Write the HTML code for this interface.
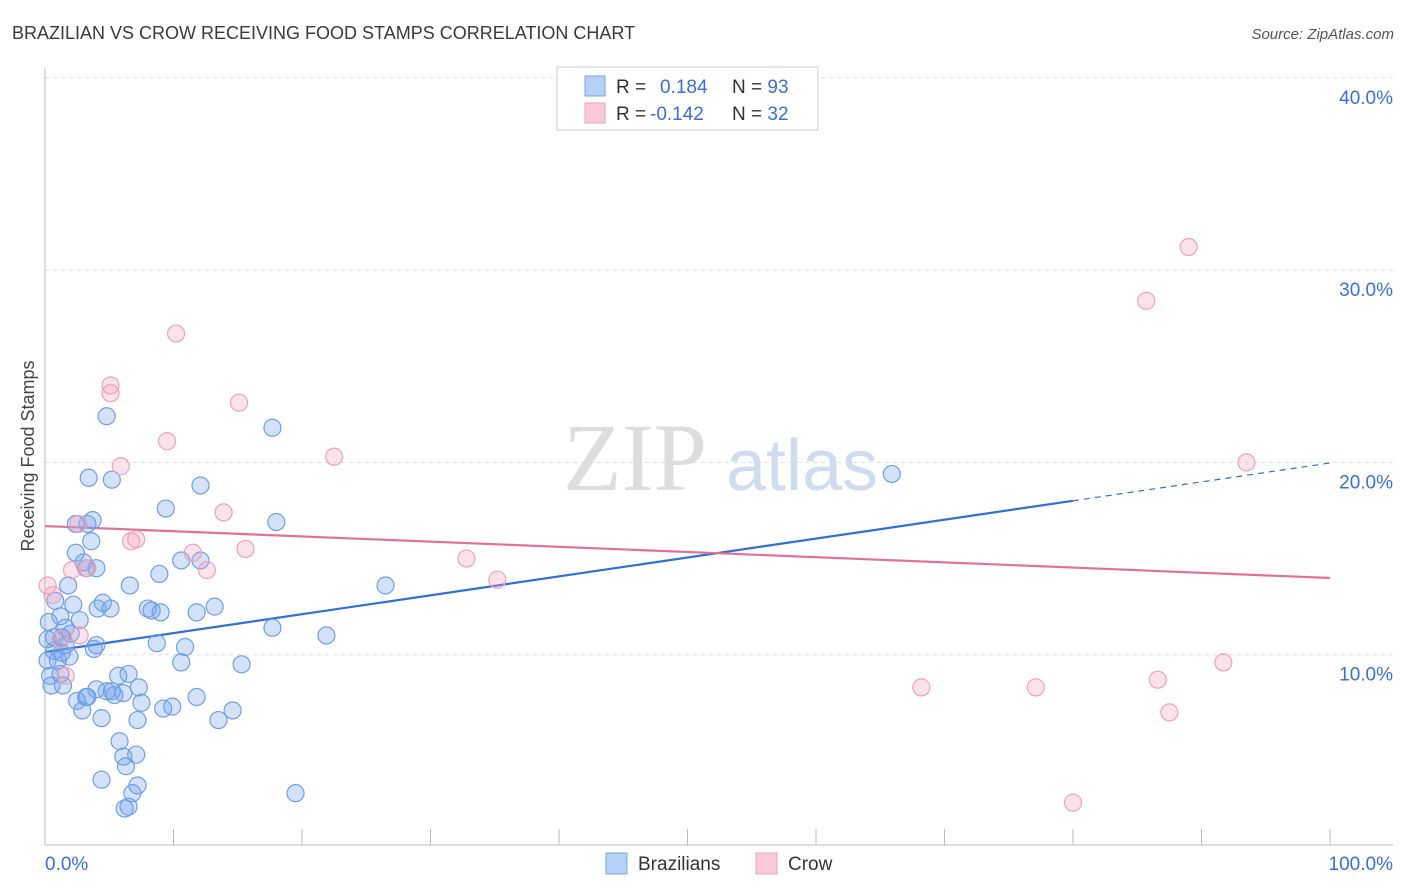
<!DOCTYPE html>
<html><head><meta charset="utf-8"><style>
body{margin:0;background:#fff;font-family:"Liberation Sans",sans-serif;}
svg{display:block}
</style></head><body>
<svg id="chart" width="1406" height="892">
<text x="12" y="39" font-size="18" fill="#3a3a3a">BRAZILIAN VS CROW RECEIVING FOOD STAMPS CORRELATION CHART</text>
<text x="1394" y="39" font-size="15" fill="#555" font-style="italic" text-anchor="end">Source: ZipAtlas.com</text>
<text x="34" y="456" font-size="18" fill="#444" transform="rotate(-90 34 456)" text-anchor="middle">Receiving Food Stamps</text>
<g><text x="635" y="490" font-size="96" fill="#ddd" font-family="Liberation Serif,serif" text-anchor="middle">ZIP</text><text x="802" y="490" font-size="72" fill="#cfdcef" text-anchor="middle">atlas</text></g>
<g id="grid"></g><g id="axes"></g><g id="trend"></g><g id="pts"></g>
<g>
<rect x="557" y="67" width="261" height="63" fill="#fff" stroke="#ccc"/>
<rect x="585" y="76" width="20" height="20" fill="#b7d0f5" stroke="#7aa6e8"/>
<rect x="585" y="103" width="20" height="20" fill="#f9c9d8" stroke="#eda3bb"/>
<text x="616" y="93" font-size="19" fill="#333">R = <tspan fill="#3a6fd8" x="660">0.184</tspan><tspan fill="#333" x="732">N = </tspan><tspan fill="#3a6fd8">93</tspan></text>
<text x="616" y="120" font-size="19" fill="#333">R = <tspan fill="#3a6fd8" x="650">-0.142</tspan><tspan fill="#333" x="732">N = </tspan><tspan fill="#3a6fd8">32</tspan></text>
</g>
<g>
<rect x="606" y="853" width="21" height="21" fill="#b7d0f5" stroke="#7aa6e8"/>
<text x="638" y="870" font-size="19" fill="#333">Brazilians</text>
<rect x="756" y="853" width="21" height="21" fill="#f9c9d8" stroke="#eda3bb"/>
<text x="788" y="870" font-size="19" fill="#333">Crow</text>
</g>
</svg>
<script>
const xTicks=[0,10,20,30,40,50,60,70,80,90,100];
const yTicks=[10,20,30,40];
const yTickLabels=["10.0%","20.0%","30.0%","40.0%"];
const blueX=[4.8,17.7,3.4,5.2,12.1,9.4,18.0,3.7,2.4,3.3,3.6,2.4,3.0,10.6,12.1,4.0,3.2,8.9,1.8,6.6,26.5,0.8,2.2,4.5,4.1,5.1,8.0,8.3,9.0,11.8,13.2,1.2,2.7,0.3,1.6,2.0,1.3,17.7,21.9,8.7,10.9,4.0,3.8,0.7,1.3,1.9,1.0,0.2,10.6,15.3,5.7,6.5,1.2,0.4,0.5,1.4,4.0,4.8,5.2,6.1,7.3,5.4,2.5,3.2,3.3,11.8,7.5,9.2,9.9,14.6,2.9,4.4,7.2,13.5,5.8,6.1,7.1,6.3,4.4,7.2,6.8,19.5,6.2,6.5,65.9,0.7,1.6,0.2];
const blueY=[22.4,21.8,19.2,19.1,18.8,17.6,16.9,17.0,16.8,16.8,15.9,15.3,14.8,14.9,14.9,14.5,14.5,14.2,13.6,13.6,13.6,12.8,12.6,12.7,12.4,12.4,12.4,12.3,12.2,12.2,12.5,12.0,11.8,11.7,11.4,11.1,10.9,11.4,11.0,10.6,10.4,10.5,10.3,10.9,10.1,9.9,9.7,9.7,9.6,9.5,8.9,9.0,9.0,8.9,8.4,8.4,8.2,8.1,8.1,8.0,8.3,7.9,7.6,7.8,7.8,7.8,7.5,7.2,7.3,7.1,7.1,6.7,6.6,6.6,5.5,4.7,4.8,4.2,3.5,3.2,2.8,2.8,2.0,2.1,19.4,10.2,10.5,10.8];
const pinkX=[10.2,5.1,5.1,15.1,9.5,5.9,22.5,13.9,2.6,6.7,7.1,15.6,11.5,12.6,2.1,3.3,32.8,35.2,0.2,0.6,2.7,1.6,68.2,77.1,86.6,87.5,91.7,80.0,89.0,85.7,93.5,1.2];
const pinkY=[26.7,24.0,23.6,23.1,21.1,19.8,20.3,17.4,16.8,15.9,16.0,15.5,15.3,14.4,14.4,14.5,15.0,13.9,13.6,13.1,11.0,8.9,8.3,8.3,8.7,7.0,9.6,2.3,31.2,28.4,20.0,10.8];
const blueTrend=[10.14,19.97];
const pinkTrend=[16.69,13.99];
const NS="http://www.w3.org/2000/svg";
const sx=v=>45+v*12.85, sy=v=>847-v*19.23;
function mk(tag,attrs,parent){const e=document.createElementNS(NS,tag);for(const k in attrs)e.setAttribute(k,attrs[k]);parent.appendChild(e);return e;}
const grid=document.getElementById('grid'),axes=document.getElementById('axes'),trend=document.getElementById('trend'),pts=document.getElementById('pts');
yTicks.forEach((t,i)=>{
 const l=mk('line',{x1:45,x2:1393,y1:sy(t),y2:sy(t),stroke:'#ddd','stroke-dasharray':'4,4'},grid);
 
 
 const tx=mk('text',{x:1393,y:sy(t)+26,'font-size':19,fill:'#3a6fd8','text-anchor':'end'},grid);
 tx.textContent=yTickLabels[i];
 
 
});
const al=mk('line',{x1:45,x2:1393,y1:845,y2:845,stroke:'#bbb'},axes);


const yl=mk('line',{x1:45,x2:45,y1:68,y2:845,stroke:'#bbb'},axes);


xTicks.forEach(t=>{
 const l=mk('line',{x1:sx(t),x2:sx(t),y1:829,y2:845,stroke:'#bbb'},axes);
 
 
});
const x0=mk('text',{x:45,y:870,'font-size':19,fill:'#3a6fd8'},axes);x0.textContent='0.0%';


const x1=mk('text',{x:1393,y:870,'font-size':19,fill:'#3a6fd8','text-anchor':'end'},axes);x1.textContent='100.0%';


blueX.forEach((x,i)=>{
 const c=mk('circle',{cx:sx(x),cy:sy(blueY[i]),r:8.5,fill:'rgba(110,160,235,0.3)',stroke:'#6f9fe6','stroke-width':1.2},pts);
 
 
});
pinkX.forEach((x,i)=>{
 const c=mk('circle',{cx:sx(x),cy:sy(pinkY[i]),r:8.5,fill:'rgba(245,160,190,0.3)',stroke:'#eba2bb','stroke-width':1.2},pts);
 
 
});
const bAt=x=>blueTrend[0]+(blueTrend[1]-blueTrend[0])*x/100;
const b1=mk('line',{x1:sx(0),y1:sy(bAt(0)),x2:sx(80),y2:sy(bAt(80)),stroke:'#2f6fd6','stroke-width':2.2},trend);


const b2=mk('line',{x1:sx(80),y1:sy(bAt(80)),x2:sx(100),y2:sy(bAt(100)),stroke:'#2f6fd6','stroke-width':1.2,'stroke-dasharray':'6,5'},trend);


const p1=mk('line',{x1:sx(0),y1:sy(pinkTrend[0]),x2:sx(100),y2:sy(pinkTrend[1]),stroke:'#e4709a','stroke-width':2.2},trend);


</script>
</body></html>
